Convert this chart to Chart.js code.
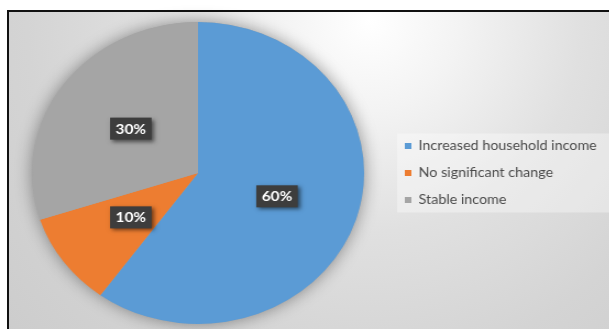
<!DOCTYPE html>
<html>
<head>
  <title>Household income</title>
  <script src="https://cdn.jsdelivr.net/npm/chart.js"></script>
  <style>
    body { margin: 0; width: 609px; height: 329px; overflow: hidden; background: #fff; position: relative; }
    #frame {
      position: absolute; left: 7px; top: 10px; width: 640px; height: 360px;
      border: 2px solid #111;
      background: radial-gradient(circle farthest-corner at 361px 8px, #ffffff 0%, #f3f3f3 18%, #e0e0e0 42%, #d4d4d4 68%, #cbcbcb 100%);
    }
    #wrap {
      position: absolute; left: 0; top: 0; width: 554px; height: 329px;
      transform: scaleX(1.1); transform-origin: 0 0;
    }
  </style>
</head>
<body>
<div id="frame"></div>
<div id="wrap"><canvas id="incomeChart"></canvas></div>

<script>
  const labels = ['Increased household income', 'No significant change', 'Stable income'];
  const shares = [60, 10, 30];
  const colors = ['#5b9bd5', '#ed7d31', '#a5a5a5'];

  // soft shadow under the whole pie
  const pieShadow = {
    id: 'pieShadow',
    beforeDatasetsDraw(chart) {
      const arc = chart.getDatasetMeta(0).data[0];
      if (!arc) return;
      const ctx = chart.ctx;
      ctx.save();
      ctx.shadowColor = 'rgba(0,0,0,0.4)';
      ctx.shadowBlur = 16;
      ctx.fillStyle = '#a5a5a5';
      ctx.beginPath();
      ctx.arc(arc.x, arc.y, arc.outerRadius, 0, Math.PI * 2);
      ctx.fill();
      ctx.restore();
    }
  };

  // lighter panel behind the legend
  const legendPanel = {
    id: 'legendPanel',
    beforeDraw(chart) {
      const boxes = chart.legend && chart.legend.legendHitBoxes;
      if (!boxes || !boxes.length) return;
      const first = boxes[0], last = boxes[boxes.length - 1];
      const ctx = chart.ctx;
      ctx.save();
      ctx.fillStyle = 'rgba(255,255,255,0.35)';
      ctx.fillRect(first.left - 7, first.top - 6, chart.width - first.left + 7, last.top + last.height - first.top + 12);
      ctx.restore();
    }
  };

  // dark value boxes in the middle of each slice
  const valueBoxes = {
    id: 'valueBoxes',
    afterDatasetsDraw(chart) {
      const ctx = chart.ctx;
      const meta = chart.getDatasetMeta(0);
      ctx.save();
      ctx.font = 'bold 14px Lato, "DejaVu Sans", sans-serif';
      ctx.textAlign = 'center';
      ctx.textBaseline = 'middle';
      meta.data.forEach((arc, i) => {
        const p = arc.getCenterPoint();
        const txt = shares[i] + '%';
        const w = ctx.measureText(txt).width + 10;
        const h = 22;
        ctx.save();
        ctx.shadowColor = 'rgba(0,0,0,0.55)';
        ctx.shadowBlur = 4;
        ctx.shadowOffsetX = 2;
        ctx.shadowOffsetY = 2;
        ctx.fillStyle = '#3d3d3d';
        ctx.fillRect(p.x - w / 2, p.y - h / 2, w, h);
        ctx.restore();
        ctx.fillStyle = '#ffffff';
        ctx.fillText(txt, p.x, p.y + 0.5);
      });
      ctx.restore();
    }
  };

  new Chart(document.getElementById('incomeChart'), {
    type: 'pie',
    data: {
      labels: labels,
      datasets: [{
        data: shares,
        backgroundColor: colors,
        borderWidth: 0
      }]
    },
    options: {
      responsive: true,
      maintainAspectRatio: false,
      animation: false,
      layout: { padding: { top: 22, bottom: 5, left: 6, right: 10 } },
      plugins: {
        tooltip: { enabled: false },
        legend: {
          position: 'right',
          maxWidth: 190,
          labels: {
            boxWidth: 6,
            boxHeight: 6,
            padding: 14,
            color: '#4a4a4a',
            font: { family: 'Lato, "DejaVu Sans", sans-serif', size: 13 }
          }
        }
      }
    },
    plugins: [pieShadow, legendPanel, valueBoxes]
  });
</script>
</body>
</html>
